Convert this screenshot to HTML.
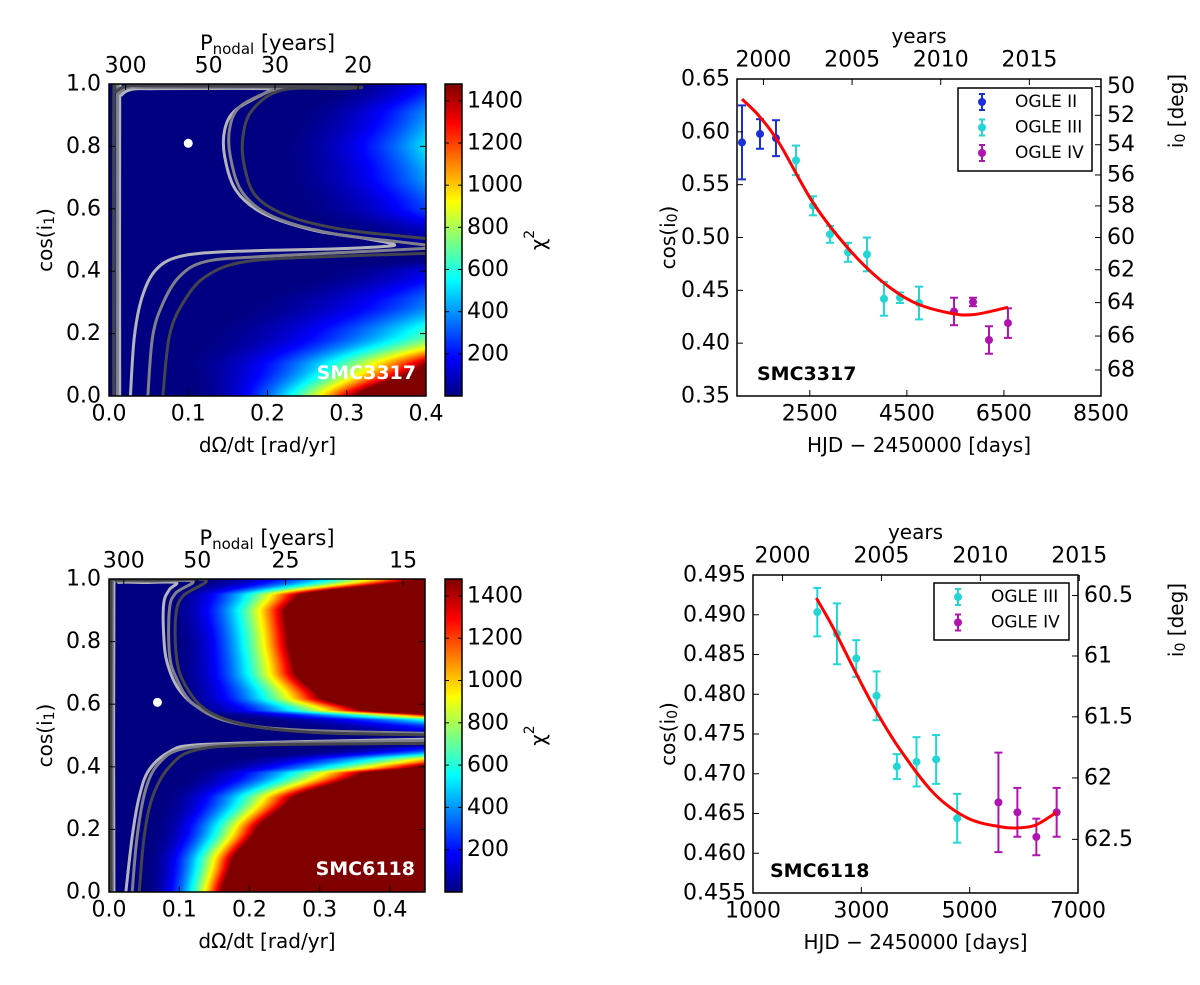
<!DOCTYPE html>
<html><head><meta charset="utf-8">
<style>
html,body{margin:0;padding:0;background:#fff;}
#wrap{position:relative;width:1200px;height:985px;overflow:hidden;}
canvas{position:absolute;}
svg{position:absolute;left:0;top:0;}
text{font-family:"DejaVu Sans","Liberation Sans",sans-serif;fill:#000;}
</style></head>
<body>
<div id="wrap">
<canvas id="hm1" width="317" height="312" style="left:109px;top:84px"></canvas>
<canvas id="cb1" width="17" height="312" style="left:445px;top:84px"></canvas>
<canvas id="hm2" width="316" height="313" style="left:109px;top:579px"></canvas>
<canvas id="cb2" width="17" height="313" style="left:445px;top:579px"></canvas>
<svg id="s" width="1200" height="985"></svg>
</div>
<script>
// ---------- DATA ----------
const chiMax = 1480;
const hm1RowY  = [0.0, 0.1, 0.2, 0.3, 0.4, 0.47, 0.5, 0.6, 0.7, 0.8, 0.9, 1.0];
const hm1Start = [0.10,0.08,0.10,0.15,0.25,0.45,0.30,0.22,0.20,0.20,0.22,0.28];
const hm1Full  = [0.31,0.40,0.55,0.66,0.72,1.00,0.80,0.63,0.575,0.537,0.566,0.607];
const hm2RowY  = [0.0, 0.1, 0.2, 0.3, 0.38, 0.40, 0.42, 0.46, 0.48, 0.52, 0.55, 0.56, 0.58, 0.62, 0.7, 0.8, 0.9, 0.95, 1.0];
const hm2Start = [0.05,0.05,0.06,0.07,0.10,0.12,0.15,0.30,0.50,0.25,0.20,0.15,0.10,0.09,0.09,0.09,0.08,0.08,0.12];
const hm2Full  = [0.16,0.175,0.21,0.26,0.36,0.44,0.50,0.70,1.00,0.80,0.60,0.50,0.36,0.30,0.265,0.255,0.25,0.27,0.44];
const cbTicks = [200,400,600,800,1000,1200,1400];
const c1Light = [[.0135,0],[.0135,.93],[.016,.965],[.0295,.983],[.06,.985],[.205,.985],[.2,.975],[.160,.917],[.146,.853],[.146,.767],[.160,.660],[.194,.586],[.257,.532],[.321,.506],[.359,.487],[.346,.479],[.279,.471],[.152,.463],[.089,.447],[.059,.404],[.042,.319],[.032,.190],[.027,0]];
const c1Mid = [[.0105,0],[.0105,.935],[.013,.97],[.025,.989],[.06,.989],[.215,.989],[.205,.98],[.165,.927],[.152,.853],[.154,.756],[.169,.650],[.207,.575],[.279,.522],[.363,.495],[.4,.484]];
const c1MidB = [[.4,.473],[.321,.463],[.194,.447],[.122,.431],[.089,.383],[.068,.297],[.055,.190],[.049,0]];
const c1Dark = [[.006,0],[.006,.94],[.009,.975],[.025,.994],[.06,.994],[.300,.991],[.295,.985],[.219,.981],[.181,.917],[.169,.831],[.171,.735],[.186,.639],[.228,.575],[.3,.532],[.4,.505]];
const c1DarkB = [[.4,.457],[.279,.447],[.173,.431],[.122,.383],[.093,.297],[.076,.190],[.068,0]];
const c2Light = [[.007,0],[.007,.975],[.014,.989],[.05,.989],[.095,.989],[.086,.966],[.078,.923],[.078,.816],[.083,.731],[.1,.646],[.133,.582],[.195,.534],[.29,.512],[.45,.505]];
const c2LightB = [[.45,.488],[.266,.480],[.124,.470],[.086,.448],[.057,.390],[.043,.304],[.033,.176],[.024,0]];
const c2Mid = [[.005,0],[.005,.98],[.012,.993],[.06,.993],[.119,.993],[.095,.955],[.086,.902],[.086,.763],[.095,.688],[.119,.603],[.171,.544],[.266,.518],[.45,.507]];
const c2MidB = [[.45,.484],[.219,.475],[.109,.459],[.071,.411],[.052,.326],[.040,.176],[.033,0]];
const c2Dark = [[.003,0],[.003,.985],[.01,.996],[.07,.996],[.138,.996],[.105,.945],[.095,.880],[.096,.752],[.107,.667],[.138,.582],[.195,.534],[.29,.510],[.45,.502]];
const c2DarkB = [[.45,.475],[.219,.470],[.124,.454],[.086,.400],[.062,.304],[.050,.176],[.043,0]];
const best1 = [0.1, 0.81];
const best2 = [0.069, 0.606];
const o2T = [1103,1474,1803];
const o2V = [0.590,0.598,0.594];
const o2E = [0.035,0.014,0.017];
const o3T = [2216,2566,2916,3287,3678,4028,4358,4750];
const o3V = [0.573,0.530,0.503,0.486,0.484,0.442,0.443,0.438];
const o3E = [0.014,0.009,0.008,0.009,0.016,0.016,0.005,0.0155];
const o4T = [5471,5863,6192,6583];
const o4V = [0.430,0.439,0.403,0.419];
const o4E = [0.013,0.004,0.013,0.014];
const fit1T = [1103,1474,1886,2566,3266,3946,4626,5326,5863,6583];
const fit1V = [0.631,0.614,0.588,0.533,0.491,0.460,0.439,0.429,0.427,0.434];
const p3T = [2187,2550,2906,3281,3656,4019,4381,4769];
const p3V = [0.49033,0.4876,0.4845,0.4798,0.4709,0.4715,0.4718,0.4644];
const p3E = [0.00305,0.00383,0.0023,0.00307,0.00157,0.0031,0.00307,0.00307];
const p4T = [5531,5881,6231,6606];
const p4V = [0.4664,0.46515,0.46205,0.46515];
const p4E = [0.00626,0.00307,0.0023,0.00307];
const fit2T = [2169,2469,2906,3281,3719,4344,4969,5594,5906,6219,6606];
const fit2V = [0.4921,0.4885,0.4826,0.4778,0.4730,0.4675,0.4644,0.4633,0.4632,0.46355,0.46515];

// ---------- helpers ----------
const NS='http://www.w3.org/2000/svg';
const S=document.getElementById('s');
function mk(tag,attrs,name,parent){
  const e=document.createElementNS(NS,tag);
  for(const k in attrs) e.setAttribute(k,attrs[k]);
  
  
  (parent||S).appendChild(e); return e;
}
function txt(x,y,s,name,opt){
  opt=opt||{};
  const e=mk('text',{x:x,y:y,'font-size':opt.fs||22,'text-anchor':opt.a||'middle','dominant-baseline':'central'},name);
  if(opt.fill) e.setAttribute('fill',opt.fill), e.style.fill=opt.fill;
  if(opt.fw) e.setAttribute('font-weight',opt.fw);
  if(opt.rot!==undefined) e.setAttribute('transform','rotate('+opt.rot+' '+x+' '+y+')');
  e.innerHTML=s; return e;
}
function smoothPath(pts){
  let d='M'+pts[0][0]+','+pts[0][1];
  for(let i=0;i<pts.length-1;i++){
    const p0=pts[Math.max(0,i-1)],p1=pts[i],p2=pts[i+1],p3=pts[Math.min(pts.length-1,i+2)];
    const c1=[p1[0]+(p2[0]-p0[0])/6,p1[1]+(p2[1]-p0[1])/6];
    const c2=[p2[0]-(p3[0]-p1[0])/6,p2[1]-(p3[1]-p1[1])/6];
    d+=' C'+c1[0]+','+c1[1]+' '+c2[0]+','+c2[1]+' '+p2[0]+','+p2[1];
  }
  return d;
}
function jet(t){
  t=Math.max(0,Math.min(1,t));
  const c=v=>Math.round(255*Math.max(0,Math.min(1,v)));
  return [c(1.5-Math.abs(4*t-3)),c(1.5-Math.abs(4*t-2)),c(1.5-Math.abs(4*t-1))];
}
function interpRow(ys,arr,y){
  if(y<=ys[0]) return arr[0];
  for(let i=1;i<ys.length;i++){ if(y<=ys[i]){let f=(y-ys[i-1])/(ys[i]-ys[i-1]);f=f*f*(3-2*f)*0.5+f*0.5;return arr[i-1]+f*(arr[i]-arr[i-1]);} }
  return arr[arr.length-1];
}
function drawHeat(id,xmax,rowY,st,fu){
  const cv=document.getElementById(id),ctx=cv.getContext('2d');
  const W=cv.width,H=cv.height,img=ctx.createImageData(W,H);
  for(let py=0;py<H;py++){
    const y=1-(py+0.5)/H;
    const a=interpRow(rowY,st,y),b=interpRow(rowY,fu,y);
    for(let px=0;px<W;px++){
      const x=(px+0.5)/W*xmax;
      let v=0; if(x>a){const f=(x-a)/(b-a);v=chiMax*f*f;}
      const c=jet(v/chiMax),k=(py*W+px)*4;
      img.data[k]=c[0];img.data[k+1]=c[1];img.data[k+2]=c[2];img.data[k+3]=255;
    }
  }
  ctx.putImageData(img,0,0);
}
function drawCB(id){
  const cv=document.getElementById(id),ctx=cv.getContext('2d');
  for(let py=0;py<cv.height;py++){const c=jet(1-py/cv.height);ctx.fillStyle='rgb('+c+')';ctx.fillRect(0,py,cv.width,1);}
}
const defs=mk('defs',{},'definitions');

function heatPanel(o){
  const X=v=>o.x0+v/o.xmax*(o.x1-o.x0), Y=v=>o.y1-v*(o.y1-o.y0);
  drawHeat(o.hm,o.xmax,o.rowY,o.st,o.fu); drawCB(o.cb);
  const cp=mk('clipPath',{id:'clip-'+o.hm},'plot-clip',defs);
  mk('rect',{x:o.x0,y:o.y0,width:o.x1-o.x0,height:o.y1-o.y0},'plot-clip-rect',cp);
  const g=mk('g',{'clip-path':'url(#clip-'+o.hm+')'},'contour-group');
  const cols=['#b4b4bc','#80808a','#44444c'];
  o.cont.forEach((c,i)=>{
    c.forEach(seg=>{
      mk('path',{d:smoothPath(seg.map(q=>[X(q[0]),Y(q[1])])),fill:'none',stroke:cols[i],'stroke-width':3,'stroke-linejoin':'round'},'contour-level-'+(i+1),g);
    });
  });
  mk('circle',{cx:X(o.best[0]),cy:Y(o.best[1]),r:4.5,fill:'#fff'},'best-fit-point');
  txt(o.x1-10,o.y1-23,o.label,'star-label',{a:'end',fill:'#fff',fw:'bold',fs:19});
  mk('rect',{x:o.x0,y:o.y0,width:o.x1-o.x0,height:o.y1-o.y0,fill:'none',stroke:'#000','stroke-width':1.5},'plot-frame');
  o.xt.forEach(v=>{
    mk('line',{x1:X(v),x2:X(v),y1:o.y1,y2:o.y1-6,stroke:'#000'},'x-tick');
    txt(X(v),o.y1+18,v.toFixed(1),'x-tick-label');
  });
  for(let v=0;v<=1.001;v+=0.2){
    mk('line',{x1:o.x0,x2:o.x0+6,y1:Y(v),y2:Y(v),stroke:'#000'},'y-tick');
    mk('line',{x1:o.x1,x2:o.x1-6,y1:Y(v),y2:Y(v),stroke:'#000'},'y-tick-right');
    txt(o.x0-8,Y(v),v.toFixed(1),'y-tick-label',{a:'end'});
  }
  o.pt.forEach(P=>{
    const x=X(2*Math.PI/P);
    mk('line',{x1:x,x2:x,y1:o.y0,y2:o.y0+6,stroke:'#000'},'top-tick');
    txt(x,o.y0-18,String(P),'period-tick-label');
  });
  txt((o.x0+o.x1)/2,o.y0-41,'P<tspan font-size="15" dy="6">nodal</tspan><tspan dy="-6"> [years]</tspan>','period-axis-title',{fs:21});
  txt((o.x0+o.x1)/2,o.y1+49,'dΩ/dt [rad/yr]','x-axis-title',{fs:20});
  txt(45,(o.y0+o.y1)/2,'cos(i<tspan font-size="14" dy="5">1</tspan><tspan dy="-5">)</tspan>','y-axis-title',{fs:20,rot:-90});
  const cy=v=>o.y1-v/chiMax*(o.y1-o.y0);
  mk('rect',{x:445,y:o.y0,width:17,height:o.y1-o.y0,fill:'none',stroke:'#000','stroke-width':1.5},'colorbar-frame');
  cbTicks.forEach(v=>{
    mk('line',{x1:445,x2:449,y1:cy(v),y2:cy(v),stroke:'#000'},'colorbar-tick');
    mk('line',{x1:462,x2:458,y1:cy(v),y2:cy(v),stroke:'#000'},'colorbar-tick');
    txt(467,cy(v),String(v),'colorbar-tick-label',{a:'start'});
  });
  txt(538,(o.y0+o.y1)/2,'χ<tspan font-size="14" dy="-8">2</tspan>','colorbar-title',{fs:20,rot:-90});
}
heatPanel({hm:'hm1',cb:'cb1',x0:109,x1:426,y0:84,y1:396,xmax:0.4,rowY:hm1RowY,st:hm1Start,fu:hm1Full,
  cont:[[c1Light],[c1Mid,c1MidB],[c1Dark,c1DarkB]],best:best1,label:'SMC3317',xt:[0,0.1,0.2,0.3,0.4],pt:[300,50,30,20]});
heatPanel({hm:'hm2',cb:'cb2',x0:109,x1:425,y0:579,y1:892,xmax:0.45,rowY:hm2RowY,st:hm2Start,fu:hm2Full,
  cont:[[c2Light,c2LightB],[c2Mid,c2MidB],[c2Dark,c2DarkB]],best:best2,label:'SMC6118',xt:[0,0.1,0.2,0.3,0.4],pt:[300,50,25,15]});

function tsPanel(o){
  const X=v=>o.x0+(v-o.tmin)/(o.tmax-o.tmin)*(o.x1-o.x0);
  const Y=v=>o.y0+(o.vmax-v)/(o.vmax-o.vmin)*(o.y1-o.y0);
  mk('rect',{x:o.x0,y:o.y0,width:o.x1-o.x0,height:o.y1-o.y0,fill:'#fff',stroke:'none'},'plot-background');
  o.series.forEach(s=>{
    s.t.forEach((t,i)=>{
      const x=X(t),ya=Y(s.v[i]+s.e[i]),yb=Y(s.v[i]-s.e[i]);
      mk('line',{x1:x,x2:x,y1:ya,y2:yb,stroke:s.c,'stroke-width':2},'error-bar-'+s.n);
      mk('line',{x1:x-4,x2:x+4,y1:ya,y2:ya,stroke:s.c,'stroke-width':2},'error-cap');
      mk('line',{x1:x-4,x2:x+4,y1:yb,y2:yb,stroke:s.c,'stroke-width':2},'error-cap');
      mk('circle',{cx:x,cy:Y(s.v[i]),r:4,fill:s.c},'data-point-'+s.n);
    });
  });
  mk('path',{d:smoothPath(o.ft.map((t,i)=>[X(t),Y(o.fv[i])])),fill:'none',stroke:'#ff0000','stroke-width':3,'stroke-linejoin':'round'},'model-fit-line');
  mk('rect',{x:o.x0,y:o.y0,width:o.x1-o.x0,height:o.y1-o.y0,fill:'none',stroke:'#000','stroke-width':1.5},'plot-frame');
  o.xt.forEach(v=>{
    mk('line',{x1:X(v),x2:X(v),y1:o.y1,y2:o.y1-6,stroke:'#000'},'x-tick');
    txt(X(v),o.y1+18,String(v),'x-tick-label');
  });
  o.yt.forEach(v=>{
    mk('line',{x1:o.x0,x2:o.x0+6,y1:Y(v),y2:Y(v),stroke:'#000'},'y-tick');
    txt(o.x0-7,Y(v),v.toFixed(o.yd),'y-tick-label',{a:'end'});
  });
  o.it.forEach(d=>{
    const y=Y(Math.cos(d*Math.PI/180));
    mk('line',{x1:o.x1,x2:o.x1-6,y1:y,y2:y,stroke:'#000'},'right-tick');
    txt(o.x1+6,y,String(d),'inclination-tick-label',{a:'start'});
  });
  o.yr.forEach(y=>{
    const x=X(1545+365.25*(y-2000));
    mk('line',{x1:x,x2:x,y1:o.y0,y2:o.y0+6,stroke:'#000'},'year-tick');
    txt(x,o.y0-19,String(y),'year-tick-label');
  });
  txt((o.x0+o.x1)/2,o.y0-43,'years','year-axis-title',{fs:20});
  txt((o.x0+o.x1)/2,o.y1+49,'HJD − 2450000 [days]','x-axis-title',{fs:20});
  txt(o.ylx,(o.y0+o.y1)/2,'cos(i<tspan font-size="14" dy="5">0</tspan><tspan dy="-5">)</tspan>','y-axis-title',{fs:20,rot:-90});
  txt(1176,o.y0+o.rly,'i<tspan font-size="14" dy="5">0</tspan><tspan dy="-5"> [deg]</tspan>','right-axis-title',{fs:20,rot:-90});
  txt(o.lx,o.y1-22,o.label,'star-label',{a:'start',fw:'bold',fs:19});
  const L=o.leg;
  mk('rect',{x:L.x,y:L.y,width:L.w,height:L.h,fill:'#fff',stroke:'#000','stroke-width':1.5},'legend-box');
  o.series.forEach((s,i)=>{
    const y=L.y+14+i*25.5, x=L.x+24;
    mk('line',{x1:x,x2:x,y1:y-8,y2:y+8,stroke:s.c,'stroke-width':2},'legend-marker');
    mk('line',{x1:x-3,x2:x+3,y1:y-8,y2:y-8,stroke:s.c,'stroke-width':2},'legend-marker');
    mk('line',{x1:x-3,x2:x+3,y1:y+8,y2:y+8,stroke:s.c,'stroke-width':2},'legend-marker');
    mk('circle',{cx:x,cy:y,r:4,fill:s.c},'legend-marker');
    txt(x+33,y,s.label,'legend-entry',{a:'start',fs:17});
  });
}
tsPanel({x0:737,x1:1101,y0:79,y1:396,tmin:1000,tmax:8500,vmin:0.35,vmax:0.65,
  series:[{t:o2T,v:o2V,e:o2E,c:'#1a2fd6',n:'ogle2',label:'OGLE II'},{t:o3T,v:o3V,e:o3E,c:'#22d6d6',n:'ogle3',label:'OGLE III'},{t:o4T,v:o4V,e:o4E,c:'#b014b0',n:'ogle4',label:'OGLE IV'}],
  ft:fit1T,fv:fit1V,xt:[2500,4500,6500,8500],yt:[0.35,0.40,0.45,0.50,0.55,0.60,0.65],yd:2,it:[50,52,54,56,58,60,62,64,66,68],
  yr:[2000,2005,2010,2015],ylx:668,rly:32,lx:757,label:'SMC3317',leg:{x:958,y:88,w:134,h:83}});
tsPanel({x0:753,x1:1078,y0:575,y1:893,tmin:1000,tmax:7000,vmin:0.455,vmax:0.495,
  series:[{t:p3T,v:p3V,e:p3E,c:'#22d6d6',n:'ogle3',label:'OGLE III'},{t:p4T,v:p4V,e:p4E,c:'#b014b0',n:'ogle4',label:'OGLE IV'}],
  ft:fit2T,fv:fit2V,xt:[1000,3000,5000,7000],yt:[0.455,0.46,0.465,0.47,0.475,0.48,0.485,0.49,0.495],yd:3,it:[60.5,61,61.5,62,62.5],
  yr:[2000,2005,2010,2015],ylx:668,rly:45,lx:770,label:'SMC6118',leg:{x:934,y:583,w:135,h:57}});
</script>
</body></html>
